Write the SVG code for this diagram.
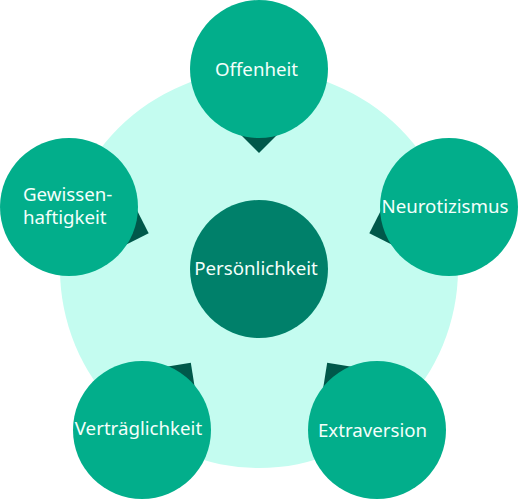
<svg xmlns="http://www.w3.org/2000/svg" width="518" height="500" viewBox="0 0 518 500">
<style>
.bg{fill:#c4fcf0}
.outer{fill:#02ae8b}
.center{fill:#00806a}
.ptr{fill:#00584a}
.lbl{font-family:"Noto Sans","Open Sans","Liberation Sans",sans-serif;font-size:18.7px;fill:#f4fffb}
</style>
<defs>
<polygon id="ptr" points="0,-116 -22,-138 22,-138"/>
</defs>
<circle class="bg" cx="259" cy="269" r="199"/>
<g id="connectors">
<use href="#ptr" class="ptr" transform="translate(259,269) rotate(0)"/>
<use href="#ptr" class="ptr" transform="translate(259,269) rotate(72)"/>
<use href="#ptr" class="ptr" transform="translate(259,269) rotate(144)"/>
<use href="#ptr" class="ptr" transform="translate(259,269) rotate(216)"/>
<use href="#ptr" class="ptr" transform="translate(259,269) rotate(288)"/>
</g>
<g id="node-center">
<circle class="center" cx="259" cy="269" r="69"/>
<text class="lbl" x="256" y="275" text-anchor="middle">Persönlichkeit</text>
</g>
<g id="node-offenheit">
<circle class="outer" cx="259" cy="69" r="69"/>
<text class="lbl" x="256.5" y="76" text-anchor="middle">Offenheit</text>
</g>
<g id="node-neurotizismus">
<circle class="outer" cx="449" cy="207" r="69"/>
<text class="lbl" x="445" y="213" text-anchor="middle">Neurotizismus</text>
</g>
<g id="node-extraversion">
<circle class="outer" cx="377" cy="430" r="69"/>
<text class="lbl" x="372.5" y="437" text-anchor="middle">Extraversion</text>
</g>
<g id="node-vertraeglichkeit">
<circle class="outer" cx="142" cy="430" r="69"/>
<text class="lbl" x="138.5" y="435" text-anchor="middle">Verträglichkeit</text>
</g>
<g id="node-gewissenhaftigkeit">
<circle class="outer" cx="69" cy="207" r="69"/>
<text class="lbl" x="23" y="201">Gewissen-</text>
<text class="lbl" x="23" y="224">haftigkeit</text>
</g>
</svg>
